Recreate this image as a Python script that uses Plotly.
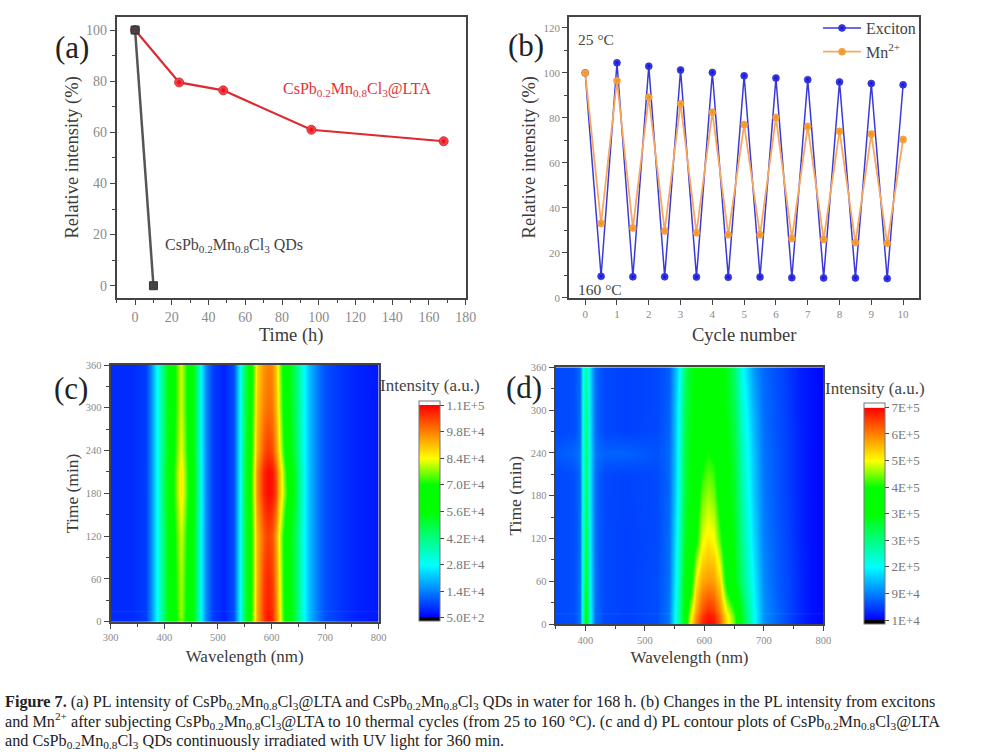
import plotly.graph_objects as go

# ---------- panel (a) ----------
a_time_lta = [0, 24, 48, 96, 168]
a_int_lta = [100, 79.5, 76.4, 61, 56.5]
a_time_qd = [0, 10]
a_int_qd = [100, 0]

# ---------- panel (b) ----------
b_cycle = [0, .5, 1, 1.5, 2, 2.5, 3, 3.5, 4, 4.5, 5, 5.5, 6, 6.5, 7, 7.5, 8, 8.5, 9, 9.5, 10]
b_exciton = [100, 9.5, 104.5, 9.3, 103, 9.3, 101.3, 9.2, 100.2, 9.1, 98.7, 9.2, 97.7, 8.9, 97, 8.8, 96, 8.8, 95.3, 8.5, 94.7]
b_mn = [100, 33, 96.5, 31, 89.2, 29.7, 86.3, 28.9, 82.5, 28, 77, 28, 80.2, 26.3, 76.2, 25.9, 74, 24.5, 72.8, 24.2, 70.4]

# ---------- panel (c), intensity in thousands ----------
c_wave = [300,340,365,375,385,395,405,415,430,445,457,468,478,490,510,530,541,550,564,572,585,592,600,607,613,625,635,648,660,672,684,700,730,760,800]
c_time = [0, 13, 15, 17, 60, 120, 180, 210, 240, 300, 360]
c_t0   = [5,5,7,15,28,40,52,64,78,64,50,28,15,7,4,9,28,48,78,94,106,110,108,98,88,68,56,42,28,20,14,9,6,4,3]
c_t13  = [5,5,7,15,28,40,52,64,79,64,50,28,15,7,4,9,28,48,77,93,106,110,108,98,87,67,56,42,28,20,14,9,6,4,3]
c_t15  = [7,7,9,16,29,41,53,65,79,65,51,29,16,9,6,11,29,49,77,93,106,110,108,98,87,67,56,43,29,21,15,11,8,6,5]
c_t17  = [5,5,7,15,28,40,52,65,79,65,50,28,15,7,4,9,28,48,77,93,106,109,107,98,87,67,56,42,28,20,14,9,6,4,3]
c_t60  = [5,5,7,15,28,40,52,65,80,65,50,28,15,7,4,9,28,48,76,92,105,108,106,97,86,66,55,42,28,20,14,9,6,4,3]
c_t120 = [5,5,7,15,28,40,52,66,82,66,50,28,15,7,4,9,28,48,76,92,102,105,103,95,84,66,54,42,28,20,14,9,6,4,3]
c_t180 = [5,5,7,15,28,41,54,69,87,69,52,28,15,7,4,9,28,49,78,96,108,111,110,104,92,76,60,44,29,20,14,9,6,4,3]
c_t210 = [5,5,7,15,28,41,54,69,87,68,52,28,15,7,4,9,28,49,78,96,108,111,110,103,92,74,58,44,29,20,14,9,6,4,3]
c_t240 = [5,5,7,15,28,40,52,67,84,67,50,28,15,7,4,9,28,48,76,92,103,106,104,96,86,68,55,42,28,20,14,9,6,4,3]
c_t300 = [5,5,7,15,28,40,52,66,82,66,50,28,15,7,4,9,28,47,74,90,98,100,99,92,82,64,53,41,28,20,14,9,6,4,3]
c_t360 = [5,5,7,15,28,40,52,66,82,66,50,28,15,7,4,9,28,46,72,88,96,98,97,90,80,62,52,40,28,20,14,9,6,4,3]
c_z = [c_t0, c_t13, c_t15, c_t17, c_t60, c_t120, c_t180, c_t210, c_t240, c_t300, c_t360]
c_ticks = [0.5, 14, 28, 42, 56, 70, 84, 98, 112]
c_ticktext = ["5.0E+2", "1.4E+4", "2.8E+4", "4.2E+4", "5.6E+4", "7.0E+4", "8.4E+4", "9.8E+4", "1.1E+5"]

# ---------- panel (d), intensity in thousands ----------
d_wave = [350,380,390,394,400,408,416,430,470,520,540,550,558,565,575,586,595,605,615,626,637,649,665,684,699,720,740,760,780,800]
d_time = [0, 13, 15, 17, 60, 120, 180, 210, 240, 270, 300, 360]
d_t0   = [55,58,80,170,340,180,80,55,50,58,85,170,250,330,490,570,625,645,640,590,510,450,300,170,100,75,55,35,20,15]
d_t13  = [55,58,80,170,335,178,80,55,50,58,85,168,248,328,470,555,610,635,625,575,495,435,290,168,100,75,55,35,20,15]
d_t15  = [70,72,92,175,335,182,92,70,65,72,95,172,250,328,465,550,605,630,620,570,490,430,290,172,112,90,70,50,35,30]
d_t17  = [55,58,80,170,332,178,80,55,50,58,85,168,246,326,460,545,600,625,615,565,485,425,285,168,100,75,55,35,20,15]
d_t60  = [55,58,80,165,310,170,80,55,50,58,80,155,235,315,360,500,545,555,550,510,380,335,250,155,95,70,55,35,20,15]
d_t120 = [55,58,78,160,290,165,78,55,50,56,78,145,220,300,340,400,480,500,490,430,345,320,230,140,90,68,52,33,20,15]
d_t180 = [55,58,78,155,270,160,78,55,52,56,75,135,205,285,330,375,440,460,445,385,335,310,215,130,85,65,50,32,20,15]
d_t210 = [55,58,78,155,265,160,78,55,52,56,75,133,203,283,328,365,415,440,425,370,333,305,210,128,84,65,50,32,20,15]
d_t240 = [65,75,85,155,260,160,85,72,72,62,75,130,200,280,325,345,395,415,400,355,330,300,205,125,82,65,50,32,20,15]
d_t270 = [55,58,78,152,255,158,78,55,50,56,72,130,195,275,320,340,365,395,375,345,325,292,198,120,80,63,49,31,20,15]
d_t300 = [55,58,78,150,250,155,78,55,50,55,70,130,190,270,315,335,355,375,360,340,320,285,190,115,78,62,48,30,20,15]
d_t360 = [55,58,78,145,235,150,78,55,50,55,68,120,175,255,310,330,345,360,350,335,315,265,170,100,75,60,46,30,20,15]
d_z = [d_t0, d_t13, d_t15, d_t17, d_t60, d_t120, d_t180, d_t210, d_t240, d_t270, d_t300, d_t360]
d_ticks = [10, 90, 170, 250, 330, 410, 490, 570, 650]
d_ticktext = ["1E+4", "9E+4", "2E+5", "3E+5", "3E+5", "4E+5", "5E+5", "6E+5", "7E+5"]

W, H = 991, 752
SERIF = "Liberation Serif"
TICK = "#8a8a8a"
DARK = "#3a3a3a"
AXIS = "#444444"


def fx(p):
    return p / W


def fy(p):
    return 1 - p / H


def rainbow(lo, ticks, hi):
    """Origin style rainbow: black under the first tick, white above the last one."""
    span = hi - lo
    cols = ["#0000ff", "#0080ff", "#00ffff", "#00ff80", "#00ff00", "#00ff00",
            "#ffff00", "#ff8000", "#ff0000"]
    scale = [[0, "#000000"], [(ticks[0] - lo) / span * 0.98, "#000000"]]
    for t, c in zip(ticks, cols):
        scale.append([(t - lo) / span, c])
    scale.append([(ticks[-1] - lo) / span + 0.001, "#ffffff"])
    scale.append([1, "#ffffff"])
    return scale


def axis(box, horizontal, rng, dtick, minor, size, title, standoff, title_size=18.5):
    d = dict(
        domain=[fx(box[0]), fx(box[1])] if horizontal else [fy(box[3]), fy(box[2])],
        range=rng, dtick=dtick, tick0=0, showgrid=False, zeroline=False,
        showline=True, linecolor=AXIS, linewidth=2, mirror=True,
        ticks="outside", ticklen=5, tickwidth=1.3, tickcolor=AXIS,
        tickfont=dict(family=SERIF, size=size, color=TICK),
        title=dict(text=title, font=dict(family=SERIF, size=title_size, color=DARK), standoff=standoff),
    )
    if minor:
        d["minor"] = dict(dtick=minor, ticks="outside", ticklen=3, tickwidth=1, tickcolor=AXIS, showgrid=False)
    return d


box_a = (116.7, 465.7, 16.7, 298)
box_b = (569.3, 919, 16.7, 297.7)
box_c = (110.7, 378.7, 365, 621.7)
box_d = (555.7, 823.3, 367.3, 624)

fig = go.Figure()
fig.add_trace(go.Scatter(x=a_time_lta, y=a_int_lta, mode="lines+markers", showlegend=False,
                         line=dict(color="#dc2a30", width=2.2),
                         marker=dict(symbol="circle", size=9, color="#ff5a60", line=dict(color="#c01820", width=0.8),
                                     gradient=dict(type="radial", color="#e6000c")),
                         xaxis="x", yaxis="y"))
fig.add_trace(go.Scatter(x=a_time_qd, y=a_int_qd, mode="lines+markers", showlegend=False,
                         line=dict(color="#555555", width=2.5),
                         marker=dict(symbol="square", size=8, color="#444444", line=dict(color="#333333", width=1)),
                         xaxis="x", yaxis="y"))
fig.add_trace(go.Scatter(x=b_cycle, y=b_exciton, mode="lines+markers", name="Exciton",
                         line=dict(color="#3a3ad8", width=1.5),
                         marker=dict(symbol="circle", size=7, color="#4a4aff", line=dict(color="#1010a0", width=0.5),
                                     gradient=dict(type="radial", color="#0c0cc8")),
                         xaxis="x2", yaxis="y2"))
fig.add_trace(go.Scatter(x=b_cycle, y=b_mn, mode="lines+markers", name="Mn<sup>2+</sup>",
                         line=dict(color="#f6a860", width=1.8),
                         marker=dict(symbol="circle", size=7, color="#fbb050", line=dict(color="#e08018", width=0.5),
                                     gradient=dict(type="radial", color="#f08a14")),
                         xaxis="x2", yaxis="y2"))

c_lo, c_hi = -1.44, 114.26
d_lo, d_hi = -1.1, 664.1


def cbar(left, top, height, ticks, text):
    return dict(
        thicknessmode="pixels", thickness=20.5, lenmode="pixels", len=height,
        x=fx(left), xanchor="left", xpad=0, y=fy(top), yanchor="top", ypad=0,
        tickmode="array", tickvals=ticks, ticktext=text, ticks="outside", ticklen=4,
        tickcolor=AXIS, tickfont=dict(family=SERIF, size=13, color="#777777"),
        outlinecolor="#777777", outlinewidth=1,
    )


fig.add_trace(go.Heatmap(x=c_wave, y=c_time, z=c_z, zmin=c_lo, zmax=c_hi, zsmooth="best",
                         colorscale=rainbow(c_lo, c_ticks, c_hi), hoverinfo="skip",
                         colorbar=cbar(419.3, 400.7, 220.3, c_ticks, c_ticktext),
                         xaxis="x3", yaxis="y3"))
fig.add_trace(go.Heatmap(x=d_wave, y=d_time, z=d_z, zmin=d_lo, zmax=d_hi, zsmooth="best",
                         colorscale=rainbow(d_lo, d_ticks, d_hi), hoverinfo="skip",
                         colorbar=cbar(864.3, 402.7, 221, d_ticks, d_ticktext),
                         xaxis="x4", yaxis="y4"))


def note(x, y, text, size, color=DARK, anchor="left"):
    return dict(x=fx(x), y=fy(y), xref="paper", yref="paper", text=text, showarrow=False,
                xanchor=anchor, yanchor="middle", align="left", borderpad=0, borderwidth=0,
                font=dict(family=SERIF, size=size, color=color))


FORMULA = "CsPb<sub>0.2</sub>Mn<sub>0.8</sub>Cl<sub>3</sub>"
annotations = [
    note(55, 47, "(a)", 31, "#222222"),
    note(508, 45, "(b)", 31, "#222222"),
    note(54, 388, "(c)", 31, "#222222"),
    note(506, 387, "(d)", 31, "#222222"),
    note(283, 90, FORMULA + "@LTA", 16, "#e0323a"),
    note(165, 245, FORMULA + " QDs", 16, "#444444"),
    note(578, 39, "25 °C", 15.5, "#444444"),
    note(578, 289, "160 °C", 15.5, "#444444"),
    note(380, 385, "Intensity (a.u.)", 17, "#444444"),
    note(825, 388, "Intensity (a.u.)", 17, "#444444"),
    note(5, 702, "<b>Figure 7.</b> (a) PL intensity of " + FORMULA + "@LTA and " + FORMULA
         + " QDs in water for 168 h. (b) Changes in the PL intensity from excitons", 16.2, "#222222"),
    note(5, 721, "and Mn<sup>2+</sup> after subjecting " + FORMULA
         + "@LTA to 10 thermal cycles (from 25 to 160 °C). (c and d) PL contour plots of " + FORMULA + "@LTA", 16.2, "#222222"),
    note(5, 741.5, "and " + FORMULA + " QDs continuously irradiated with UV light for 360 min.", 16.2, "#222222"),
]

fig.update_layout(
    width=W, height=H, autosize=False, margin=dict(l=0, r=0, t=0, b=0, autoexpand=False),
    paper_bgcolor="white", plot_bgcolor="white",
    xaxis=axis((box_a[0], box_a[1]), True, [-10, 180], 20, 10, 14, "Time (h)", 0) | dict(anchor="y"),
    yaxis=axis((0, 0, box_a[2], box_a[3]), False, [-4.8, 105.2], 20, 10, 14, "Relative intensity (%)", 2) | dict(anchor="x"),
    xaxis2=axis((box_b[0], box_b[1]), True, [-0.5, 10.5], 1, None, 11, "Cycle number", 9) | dict(anchor="y2"),
    yaxis2=axis((0, 0, box_b[2], box_b[3]), False, [0, 125], 20, 10, 11, "Relative intensity (%)", 3) | dict(anchor="x2"),
    xaxis3=axis((box_c[0], box_c[1]), True, [300, 800], 100, 50, 10.5, "Wavelength (nm)", 8, 17) | dict(anchor="y3"),
    yaxis3=axis((0, 0, box_c[2], box_c[3]), False, [0, 360], 60, 30, 10.5, "Time (min)", 3, 17.5) | dict(anchor="x3"),
    xaxis4=axis((box_d[0], box_d[1]), True, [350, 800], 100, 50, 10.5, "Wavelength (nm)", 7, 17) | dict(anchor="y4"),
    yaxis4=axis((0, 0, box_d[2], box_d[3]), False, [0, 360], 60, 30, 10.5, "Time (min)", 5, 17.5) | dict(anchor="x4"),
    legend=dict(x=fx(818), y=fy(11), xanchor="left", yanchor="top", bgcolor="rgba(0,0,0,0)",
                font=dict(family=SERIF, size=16, color="#444444"), itemwidth=38, tracegroupgap=0),
    annotations=annotations,
)

fig.write_html("out.html", config=dict(displayModeBar=False),
               post_script="document.body.style.margin='0';document.body.style.overflow='hidden';")
